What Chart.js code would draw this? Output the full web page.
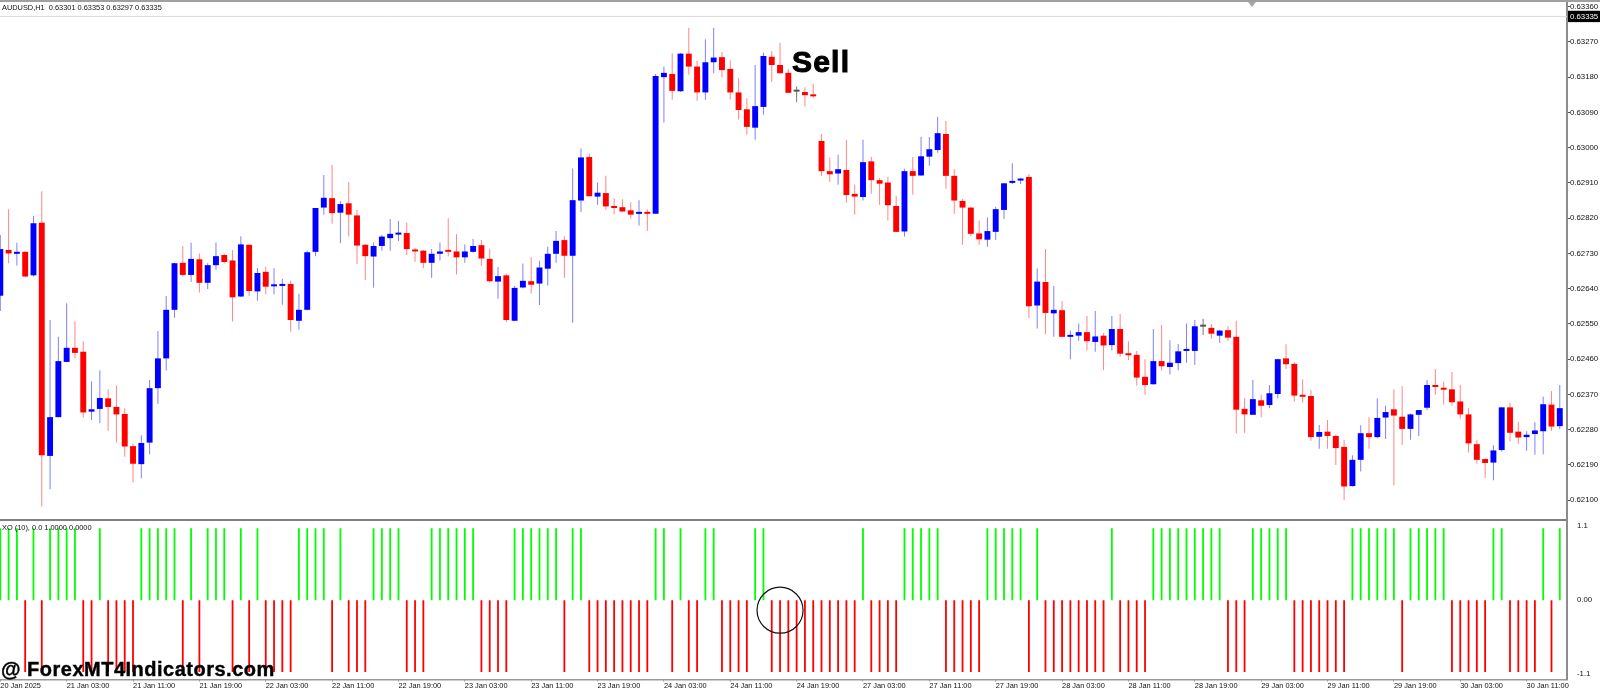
<!DOCTYPE html>
<html>
<head>
<meta charset="utf-8">
<title>AUDUSD,H1</title>
<script src="https://cdn.jsdelivr.net/npm/chart.js@4"></script>
<style>
  html, body { margin: 0; padding: 0; background: #fff; width: 1600px; height: 689px; overflow: hidden; }
  canvas { position: absolute; left: 0; }
  #priceChart { top: 0; }
  #xoChart { top: 521px; }
  .txt { position: absolute; white-space: nowrap; z-index: 5; }
  #topBar { position: absolute; left: 0; top: 0; width: 1600px; height: 2px; background: #a0a0a0; z-index: 4; }
  #shiftMark { position: absolute; left: 1248px; top: 2px; width: 0; height: 0; border-left: 4px solid transparent; border-right: 4px solid transparent; border-top: 5px solid #a8a8a8; z-index: 4; }
  #title { left: 2px; top: 3px; font: 7.4px/10px "Liberation Sans", sans-serif; color: #111; }
  #xoTitle { left: 2px; top: 523px; font: 7.4px/10px "Liberation Sans", sans-serif; color: #111; }
  #sell { left: 792px; top: 45px; font: bold 30px/34px "Liberation Sans", sans-serif; color: #000; letter-spacing: 1.2px; -webkit-text-stroke: 1px #000; }
  #mark { left: 1px; top: 657px; font: bold 20px/24px "Liberation Sans", sans-serif; color: #000; letter-spacing: .5px; -webkit-text-stroke: .4px #000; }
</style>
</head>
<body>
<div id="topBar"></div>
<div id="shiftMark"></div>
<canvas id="priceChart" width="1600" height="521"></canvas>
<canvas id="xoChart" width="1600" height="168"></canvas>
<div class="txt" id="title">AUDUSD,H1&nbsp; 0.63301 0.63353 0.63297 0.63335</div>
<div class="txt" id="xoTitle">XO (10), 0.0 1.0000 0.0000</div>
<div class="txt" id="sell">Sell</div>
<div class="txt" id="mark">@ ForexMT4Indicators.com</div>
<script>
// one label every 8 hourly bars
const timeLabels = ["20 Jan 2025","21 Jan 03:00","21 Jan 11:00","21 Jan 19:00","22 Jan 03:00","22 Jan 11:00","22 Jan 19:00","23 Jan 03:00",
  "23 Jan 11:00","23 Jan 19:00","24 Jan 03:00","24 Jan 11:00","24 Jan 19:00","27 Jan 03:00","27 Jan 11:00","27 Jan 19:00",
  "28 Jan 03:00","28 Jan 11:00","28 Jan 19:00","29 Jan 03:00","29 Jan 11:00","29 Jan 19:00","30 Jan 03:00","30 Jan 11:00"];
const priceTicks = [0.6336,0.63335,0.6327,0.6318,0.6309,0.63,0.6291,0.6282,0.6273,0.6264,0.6255,0.6246,0.6237,0.6228,0.6219,0.621];
const bidPrice = 0.63335;
const xoTickValues = [1.03,0,-1.03];
const xoTickLabels = ["1.1","0.00","-1.1"];

const opens = [
0.62622,0.62739,0.62729,0.62734,0.62674,0.62808,0.62213,0.62312,0.62453,0.62489,
0.62479,0.62326,0.62333,0.62360,0.62338,0.62320,0.62238,0.62192,0.62247,0.62386,
0.62462,0.62586,0.62706,0.62675,0.62715,0.62655,0.62700,0.62726,0.62712,0.62620,
0.62752,0.62633,0.62683,0.62646,0.62647,0.62652,0.62558,0.62586,0.62734,0.62847,
0.62871,0.62834,0.62858,0.62827,0.62752,0.62722,0.62749,0.62769,0.62778,0.62782,
0.62739,0.62737,0.62706,0.62729,0.62737,0.62735,0.62720,0.62734,0.62751,0.62716,
0.62658,0.62674,0.62558,0.62643,0.62659,0.62653,0.62691,0.62729,0.62764,0.62724,
0.62865,0.62976,0.62875,0.62884,0.62849,0.62848,0.62840,0.62831,0.62835,0.62831,
0.63180,0.63188,0.63144,0.63240,0.63207,0.63141,0.63218,0.63231,0.63201,0.63141,
0.63098,0.63051,0.63104,0.63232,0.63211,0.63191,0.63143,0.63142,0.63134,0.63017,
0.62940,0.62934,0.62943,0.62882,0.62874,0.62965,0.62917,0.62911,0.62851,0.62786,
0.62940,0.62929,0.62977,0.62994,0.63035,0.62928,0.62864,0.62847,0.62781,0.62765,
0.62785,0.62841,0.62910,0.62916,0.62925,0.62597,0.62657,0.62577,0.62585,0.62517,
0.62520,0.62529,0.62504,0.62520,0.62496,0.62537,0.62473,0.62471,0.62415,0.62396,
0.62455,0.62440,0.62450,0.62481,0.62481,0.62543,0.62540,0.62520,0.62534,0.62517,
0.62333,0.62318,0.62355,0.62343,0.62371,0.62462,0.62448,0.62369,0.62366,0.62262,
0.62275,0.62264,0.62236,0.62136,0.62203,0.62271,0.62261,0.62311,0.62332,0.62313,
0.62282,0.62318,0.62336,0.62393,0.62386,0.62383,0.62352,0.62319,0.62243,0.62205,
0.62196,0.62228,0.62337,0.62275,0.62261,0.62269,0.62276,0.62344,0.62289];
const highs = [
0.62777,0.62843,0.62757,0.62736,0.62826,0.62889,0.62560,0.62517,0.62603,0.62557,
0.62506,0.62403,0.62432,0.62383,0.62393,0.62335,0.62245,0.62266,0.62407,0.62532,
0.62621,0.62706,0.62748,0.62757,0.62730,0.62705,0.62758,0.62729,0.62739,0.62774,
0.62752,0.62693,0.62696,0.62692,0.62665,0.62660,0.62627,0.62737,0.62846,0.62930,
0.62956,0.62864,0.62912,0.62841,0.62754,0.62758,0.62777,0.62818,0.62813,0.62809,
0.62744,0.62739,0.62741,0.62758,0.62820,0.62779,0.62753,0.62767,0.62764,0.62742,
0.62695,0.62679,0.62647,0.62704,0.62721,0.62711,0.62747,0.62787,0.62774,0.62947,
0.62998,0.62986,0.62911,0.62928,0.62871,0.62868,0.62860,0.62866,0.62843,0.63188,
0.63207,0.63241,0.63241,0.63306,0.63221,0.63277,0.63306,0.63244,0.63223,0.63177,
0.63126,0.63211,0.63243,0.63247,0.63268,0.63201,0.63156,0.63154,0.63163,0.63035,
0.62975,0.62982,0.63020,0.62905,0.63020,0.62976,0.62922,0.62926,0.62877,0.62946,
0.62976,0.63028,0.63027,0.63078,0.63068,0.62945,0.62869,0.62849,0.62814,0.62822,
0.62849,0.62910,0.62960,0.62923,0.62933,0.62692,0.62741,0.62647,0.62609,0.62533,
0.62551,0.62570,0.62583,0.62526,0.62570,0.62575,0.62506,0.62481,0.62460,0.62537,
0.62547,0.62508,0.62499,0.62551,0.62560,0.62563,0.62550,0.62535,0.62544,0.62558,
0.62361,0.62407,0.62369,0.62394,0.62460,0.62498,0.62453,0.62409,0.62381,0.62292,
0.62305,0.62267,0.62254,0.62215,0.62291,0.62312,0.62360,0.62341,0.62383,0.62391,
0.62321,0.62330,0.62407,0.62435,0.62402,0.62427,0.62394,0.62335,0.62253,0.62207,
0.62240,0.62337,0.62349,0.62300,0.62276,0.62299,0.62365,0.62379,0.62394];
const lows = [
0.62583,0.62705,0.62699,0.62670,0.62671,0.62083,0.62128,0.62312,0.62452,0.62462,
0.62311,0.62305,0.62297,0.62277,0.62247,0.62211,0.62145,0.62156,0.62217,0.62346,
0.62431,0.62566,0.62671,0.62657,0.62630,0.62639,0.62688,0.62704,0.62556,0.62619,
0.62621,0.62609,0.62626,0.62626,0.62599,0.62530,0.62536,0.62585,0.62723,0.62829,
0.62806,0.62756,0.62773,0.62703,0.62662,0.62643,0.62737,0.62737,0.62762,0.62726,
0.62709,0.62693,0.62668,0.62712,0.62723,0.62676,0.62706,0.62732,0.62698,0.62655,
0.62614,0.62554,0.62557,0.62641,0.62627,0.62598,0.62648,0.62706,0.62668,0.62553,
0.62836,0.62875,0.62854,0.62841,0.62830,0.62836,0.62819,0.62801,0.62787,0.62831,
0.63064,0.63122,0.63143,0.63186,0.63120,0.63122,0.63190,0.63179,0.63123,0.63072,
0.63033,0.63020,0.63084,0.63168,0.63190,0.63139,0.63116,0.63105,0.63127,0.62928,
0.62912,0.62905,0.62860,0.62829,0.62865,0.62882,0.62854,0.62814,0.62785,0.62773,
0.62880,0.62928,0.62954,0.62987,0.62895,0.62831,0.62752,0.62774,0.62752,0.62747,
0.62764,0.62818,0.62907,0.62907,0.62565,0.62538,0.62524,0.62517,0.62516,0.62460,
0.62507,0.62483,0.62479,0.62432,0.62482,0.62466,0.62458,0.62393,0.62369,0.62395,
0.62431,0.62421,0.62432,0.62451,0.62445,0.62522,0.62512,0.62501,0.62507,0.62270,
0.62272,0.62318,0.62312,0.62335,0.62360,0.62435,0.62352,0.62349,0.62252,0.62231,
0.62231,0.62190,0.62100,0.62135,0.62173,0.62231,0.62259,0.62256,0.62138,0.62241,
0.62254,0.62264,0.62330,0.62369,0.62344,0.62341,0.62308,0.62222,0.62193,0.62157,
0.62151,0.62224,0.62250,0.62244,0.62226,0.62216,0.62217,0.62277,0.62281];
const closes = [
0.62741,0.62730,0.62734,0.62671,0.62807,0.62215,0.62312,0.62455,0.62489,0.62476,
0.62324,0.62332,0.62361,0.62338,0.62319,0.62237,0.62193,0.62246,0.62386,0.62462,
0.62586,0.62705,0.62675,0.62716,0.62655,0.62700,0.62723,0.62708,0.62618,0.62753,
0.62634,0.62680,0.62645,0.62649,0.62651,0.62560,0.62586,0.62733,0.62846,0.62872,
0.62833,0.62856,0.62829,0.62750,0.62723,0.62749,0.62773,0.62780,0.62782,0.62741,
0.62735,0.62706,0.62729,0.62735,0.62734,0.62720,0.62735,0.62749,0.62717,0.62659,
0.62672,0.62560,0.62642,0.62660,0.62650,0.62694,0.62729,0.62762,0.62724,0.62866,
0.62975,0.62876,0.62885,0.62850,0.62846,0.62837,0.62829,0.62835,0.62831,0.63183,
0.63191,0.63145,0.63240,0.63207,0.63141,0.63218,0.63230,0.63198,0.63141,0.63096,
0.63053,0.63106,0.63234,0.63211,0.63190,0.63140,0.63143,0.63134,0.63131,0.62940,
0.62932,0.62945,0.62879,0.62875,0.62963,0.62917,0.62908,0.62853,0.62785,0.62940,
0.62928,0.62978,0.62996,0.63037,0.62928,0.62865,0.62847,0.62780,0.62766,0.62787,
0.62843,0.62909,0.62914,0.62917,0.62595,0.62658,0.62578,0.62586,0.62517,0.62520,
0.62529,0.62506,0.62518,0.62495,0.62537,0.62474,0.62470,0.62413,0.62394,0.62455,
0.62442,0.62451,0.62480,0.62484,0.62544,0.62543,0.62525,0.62533,0.62515,0.62331,
0.62319,0.62358,0.62341,0.62373,0.62460,0.62447,0.62367,0.62364,0.62261,0.62274,
0.62264,0.62233,0.62135,0.62203,0.62271,0.62261,0.62310,0.62325,0.62316,0.62282,
0.62319,0.62330,0.62394,0.62389,0.62382,0.62350,0.62319,0.62245,0.62203,0.62195,
0.62227,0.62337,0.62272,0.62260,0.62267,0.62278,0.62345,0.62288,0.62335];

// XO indicator, +1 or -1 per bar
const xoValues = [
1,1,1,-1,1,-1,1,1,1,1,
-1,-1,1,-1,-1,-1,-1,1,1,1,
1,1,-1,1,-1,1,1,1,-1,1,
-1,1,-1,-1,-1,-1,1,1,1,1,
-1,1,-1,-1,-1,1,1,1,1,-1,
-1,-1,1,1,1,1,1,1,-1,-1,
-1,-1,1,1,1,1,1,1,-1,1,
1,-1,-1,-1,-1,-1,-1,-1,-1,1,
1,-1,1,-1,-1,1,1,-1,-1,-1,
-1,1,1,-1,-1,-1,-1,-1,-1,-1,
-1,-1,-1,-1,1,-1,-1,-1,-1,1,
1,1,1,1,-1,-1,-1,-1,-1,1,
1,1,1,1,-1,1,-1,-1,-1,-1,
-1,-1,-1,-1,1,-1,-1,-1,-1,1,
1,1,1,1,1,1,1,1,-1,-1,
-1,1,1,1,1,1,-1,-1,-1,-1,
-1,-1,-1,1,1,1,1,1,1,-1,
1,1,1,1,1,-1,-1,-1,-1,-1,
1,1,-1,-1,-1,-1,1,-1,1];
const circledBar = { x: 94, y: -0.14 };

const xMin = -0.036, xMax = 188.87;
const priceMin = 0.620494, priceMax = 0.633693;

const bodies = opens.map((o, i) => ({ x: i, y: [Math.min(o, closes[i]), Math.max(o, closes[i])] }));
const wicks = opens.map((o, i) => ({ x: i, y: [lows[i], highs[i]] }));
const bodyColor = opens.map((o, i) => closes[i] > o ? "#0000ff" : closes[i] < o ? "#ff0000" : "#555555");
const wickColor = opens.map((o, i) => closes[i] > o ? "rgba(0,0,255,0.5)" : closes[i] < o ? "rgba(255,0,0,0.48)" : "rgba(60,60,60,0.7)");

const noAnim = { animation: false, responsive: false, events: [], plugins: { legend: { display: false }, tooltip: { enabled: false } } };

new Chart(document.getElementById("priceChart"), {
  type: "bar",
  data: {
    datasets: [
      { data: bodies, backgroundColor: ctx => bodyColor[ctx.dataIndex], maxBarThickness: 5.9, minBarLength: 2, inflateAmount: 0, barPercentage: 1, categoryPercentage: 1, grouped: false, borderWidth: 0 },
      { data: wicks, backgroundColor: ctx => wickColor[ctx.dataIndex], maxBarThickness: 1, inflateAmount: 0, barPercentage: 1, categoryPercentage: 1, grouped: false, borderWidth: 0 },
      { type: "line", data: [{ x: xMin, y: bidPrice }, { x: xMax, y: bidPrice }], borderColor: "#d9d9d9", borderWidth: 1, pointRadius: 0 }
    ]
  },
  options: {
    ...noAnim,
    layout: { padding: { top: 3 }, autoPadding: false },
    scales: {
      x: {
        type: "linear", min: xMin, max: xMax, offset: false,
        grid: { display: false, offset: false },
        ticks: { display: false },
        border: { color: "#808080", width: 2 },
        afterFit: s => { s.height = 1; }
      },
      y: {
        position: "right", min: priceMin, max: priceMax,
        grid: { drawOnChartArea: false, tickLength: 3, tickColor: "#555" },
        border: { color: "#8c8c8c", width: 2 },
        afterBuildTicks: s => { s.ticks = priceTicks.map(value => ({ value })); },
        afterFit: s => { s.width = 33; s.paddingTop = 0; s.paddingBottom = 0; },
        ticks: {
          autoSkip: false, padding: 0,
          font: { family: "Liberation Sans", size: 7.8 },
          callback: v => v.toFixed(5),
          color: ctx => ctx.tick.value === bidPrice ? "#fff" : "#111",
          showLabelBackdrop: ctx => ctx.tick.value === bidPrice,
          backdropColor: "#000",
          backdropPadding: { left: 2, right: 4, top: 1, bottom: 1 }
        }
      }
    }
  }
});

new Chart(document.getElementById("xoChart"), {
  type: "bar",
  data: {
    datasets: [
      { type: "line", data: [circledBar], pointRadius: 23, pointBackgroundColor: "transparent", pointBorderColor: "#111", pointBorderWidth: 1.2, showLine: false, clip: false },
      {
        data: xoValues.map((v, i) => ({ x: i, y: v })),
        backgroundColor: ctx => xoValues[ctx.dataIndex] > 0 ? "#00ff00" : "#ff0000",
        maxBarThickness: 1.8, inflateAmount: 0, barPercentage: 1, categoryPercentage: 1, grouped: false, borderWidth: 0
      }
    ]
  },
  options: {
    ...noAnim,
    layout: { autoPadding: false },
    scales: {
      x: {
        type: "linear", min: xMin, max: xMax, offset: false,
        grid: { drawOnChartArea: false, offset: false, tickLength: 2, tickColor: "#444" },
        border: { color: "#999", width: 1.5 },
        afterBuildTicks: s => { s.ticks = timeLabels.map((_, i) => ({ value: i * 8 })); },
        afterFit: s => { s.height = 9.7; s.paddingLeft = 0; s.paddingRight = 0; },
        ticks: {
          autoSkip: false, maxRotation: 0, minRotation: 0, align: "start", padding: 0,
          font: { family: "Liberation Sans", size: 7.4 }, color: "#111",
          callback: (v, i) => timeLabels[i]
        }
      },
      y: {
        position: "right", min: -1.1, max: 1.1,
        grid: { display: false },
        border: { color: "#8c8c8c", width: 2 },
        afterBuildTicks: s => { s.ticks = xoTickValues.map(value => ({ value })); },
        afterFit: s => { s.width = 33; s.paddingTop = 0; s.paddingBottom = 0; },
        ticks: {
          autoSkip: false, padding: 2,
          font: { family: "Liberation Sans", size: 7.8 }, color: "#111",
          callback: (v, i) => xoTickLabels[i]
        }
      }
    }
  }
});
</script>
</body>
</html>
